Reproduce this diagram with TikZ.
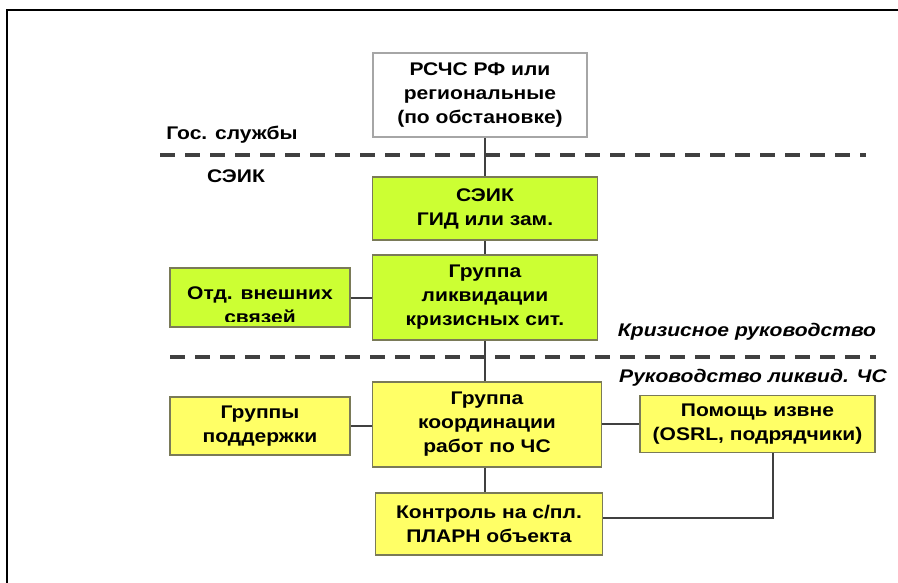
\documentclass[tikz,border=0pt]{standalone}
\usepackage{fontspec}
\setmainfont{Liberation Sans}[FakeStretch=1.15]
\begin{document}
\begin{tikzpicture}[x=1pt,y=-1pt,
  box/.style={draw=boxline,line width=1.8pt,minimum width=#1,inner sep=0pt,align=center,
    font=\bfseries\fontsize{18.3}{24}\selectfont},
  whitebox/.style={box=#1,fill=white,draw=gray!70},
  greenbox/.style={box=#1,fill=limeg},
  yellowbox/.style={box=#1,fill=yel},
  conn/.style={draw=linegray,line width=2pt},
  sep/.style={draw=linegray,line width=4pt,dash pattern=on 15pt off 10pt},
  lbl/.style={font=\bfseries\fontsize{18.3}{24}\selectfont,inner sep=0pt},
  ilbl/.style={font=\bfseries\itshape\fontsize{18.3}{24}\selectfont,inner sep=0pt}]
\definecolor{limeg}{HTML}{CCFF33}
\definecolor{yel}{HTML}{FFFF66}
\definecolor{boxline}{HTML}{7A7A58}
\definecolor{linegray}{HTML}{404040}
\useasboundingbox (0,0) rectangle (898,583);
% frame
\draw[line width=2.5pt] (7,600) -- (7,10) -- (905,10);
% separators
\draw[sep] (160,155) -- (866,155);
\draw[sep] (170,357) -- (876,357);
% labels
\node[lbl] (gos) at (232,135) {Гос. службы};
\node[lbl] (seiklbl) at (236,176) {СЭИК};
\node[ilbl] (kriz) at (747,332) {Кризисное руководство};
\node[ilbl] (ruk) at (753,378) {Руководство ликвид. ЧС};
% boxes
\node[whitebox=214pt,minimum height=84pt] (rs) at (480,95) {РСЧС РФ или\\региональные\\(по обстановке)};
\node[greenbox=225pt,minimum height=63pt] (seik) at (485,208.5) {СЭИК\\ГИД или зам.};
\node[greenbox=225pt,minimum height=85pt] (glks) at (485,297.5) {Группа\\ликвидации\\кризисных сит.};
\node[greenbox=180pt,minimum height=59pt] (otd) at (260,297.5) {};
\begin{scope}
\clip (171,269) rectangle (349,321);
\node[lbl,align=center] (otdtxt) at (260,305) {Отд. внешних\\связей};
\end{scope}
\node[yellowbox=229pt,minimum height=85pt] (gkr) at (487,424.5) {Группа\\координации\\работ по ЧС};
\node[yellowbox=180pt,minimum height=58pt] (gp) at (260,426) {Группы\\поддержки};
\node[yellowbox=235pt,minimum height=57pt] (pom) at (757.5,424) {Помощь извне\\(OSRL, подрядчики)};
\node[yellowbox=227pt,minimum height=62pt] (kon) at (489,524) {Контроль на с/пл.\\ПЛАРН объекта};
% connectors
\draw[conn] (seik.north) -- (seik.north |- rs.south);
\draw[conn] (glks.north) -- (glks.north |- seik.south);
\draw[conn] (otd.east) -- (otd.east -| glks.west);
\draw[conn] (glks.south) -- (glks.south |- gkr.north);
\draw[conn] (gp.east) -- (gp.east -| gkr.west);
\draw[conn] (pom.west) -- (pom.west -| gkr.east);
\draw[conn] (glks.south |- gkr.south) -- (glks.south |- kon.north);
\coordinate (drop) at ([xshift=15.5pt]pom.south);
\coordinate (turn) at ([yshift=6pt]drop |- kon.east);
\draw[conn] (drop) -- (turn) -- (turn -| kon.east);
\end{tikzpicture}
\end{document}
